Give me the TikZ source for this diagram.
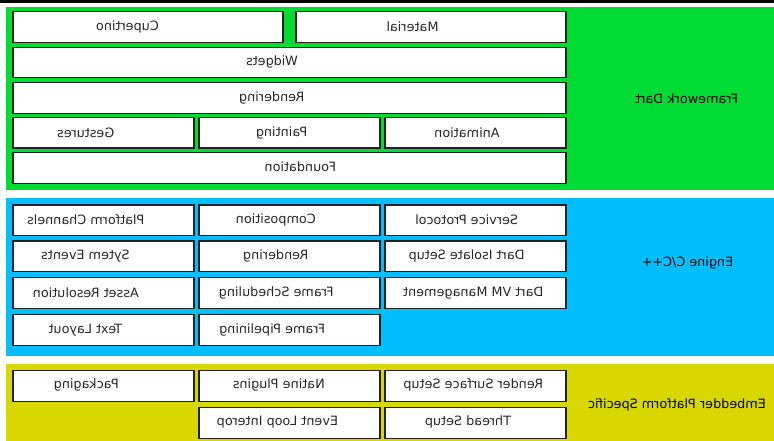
\documentclass[tikz,border=0pt]{standalone}
\usepackage{fontspec}
\setmainfont{DejaVu Sans}
\definecolor{bgreen}{RGB}{0,220,52}
\definecolor{bblue}{RGB}{0,190,255}
\definecolor{byellow}{RGB}{217,215,0}
\definecolor{boxline}{RGB}{34,34,34}
\definecolor{txt}{RGB}{40,40,40}
\newcommand{\mir}[1]{\reflectbox{#1}}
\begin{document}
\begin{tikzpicture}[x=1pt,y=-1pt,
  band/.style={inner sep=0pt, outer sep=0pt, draw=none},
  box/.style={draw=boxline, line width=1.3pt, fill=white, inner sep=0pt, outer sep=0pt, minimum width=181pt, minimum height=30.5pt},
  lbl/.style={text=txt, inner sep=0pt, font=\fontsize{12.8}{15}\selectfont},
  blbl/.style={text=black, inner sep=0pt, font=\fontsize{12.8}{15}\selectfont}]
\useasboundingbox (0,0) rectangle (774,441);
\fill[white] (0,0) rectangle (774,441);
\fill[black] (0,0) rectangle (774,2.6);
% bands
\node[band, fill=bgreen, minimum width=768pt, minimum height=183.3pt] (fw) at (390,98.35) {};
\node[band, fill=bblue, minimum width=768pt, minimum height=158pt] (en) at (390,277) {};
\node[band, fill=byellow, minimum width=768pt, minimum height=77.5pt] (em) at (390,402.25) {};
% framework boxes
\node[box, minimum width=270pt] (cup) at (148,27) {};
\node[box, minimum width=270pt] (mat) at (431,27) {};
\node[box, minimum width=553pt] (wid) at (289.5,62.5) {};
\node[box, minimum width=553pt] (ren) at (289.5,98) {};
\node[box] (ges) at (103.5,132.75) {};
\node[box] (pai) at (289.5,132.75) {};
\node[box] (ani) at (475.5,132.75) {};
\node[box, minimum width=553pt] (fou) at (289.5,168) {};
\node[lbl] (tcup) at (127.5,26.7) {\mir{Cupertino}};
\node[lbl] (tmat) at (412.5,27) {\mir{Material}};
\node[lbl] (twid) at (272,61.7) {\mir{Widgets}};
\node[lbl] (tren) at (271.8,98) {\mir{Rendering}};
\node[lbl] (tges) at (85.8,132.7) {\mir{Gestures}};
\node[lbl] (tpai) at (281.7,132.7) {\mir{Painting}};
\node[lbl] (tani) at (467,132.7) {\mir{Animation}};
\node[lbl] (tfou) at (300.3,166.7) {\mir{Foundation}};
\node[blbl] (tfw) at (686.7,98.3) {\mir{Framework Dart}};
% engine boxes
\node[box] (pc) at (103.5,220.3) {};
\node[box] (co) at (289.5,220.3) {};
\node[box] (sp) at (475.5,220.3) {};
\node[box] (se) at (103.5,256.2) {};
\node[box] (er) at (289.5,256.2) {};
\node[box] (di) at (475.5,256.2) {};
\node[box] (ar) at (103.5,293) {};
\node[box] (fs) at (289.5,293) {};
\node[box] (dv) at (475.5,293) {};
\node[box] (tl) at (103.5,330) {};
\node[box] (fp) at (289.5,330) {};
\node[lbl] (tpc) at (85.8,220) {\mir{Platform Channels}};
\node[lbl] (tco) at (275.8,220) {\mir{Composition}};
\node[lbl] (tsp) at (466.7,220) {\mir{Service Protocol}};
\node[lbl] (tse) at (85.5,256) {\mir{Sytem Events}};
\node[lbl] (ter) at (275.8,256) {\mir{Rendering}};
\node[lbl] (tdi) at (466.7,256) {\mir{Dart Isolate Setup}};
\node[lbl] (tar) at (85.8,292.7) {\mir{Asset Resolution}};
\node[lbl] (tfs) at (276.2,292.7) {\mir{Frame Scheduling}};
\node[lbl] (tdv) at (473.3,292.7) {\mir{Dart VM Management}};
\node[lbl] (ttl) at (85.3,330) {\mir{Text Layout}};
\node[lbl] (tfp) at (272.2,330) {\mir{Frame Pipelining}};
\node[blbl] (ten) at (687.5,263.3) {\mir{Engine C/C++}};
% embedder boxes
\node[box, minimum height=31pt] (pk) at (103.5,386.2) {};
\node[box, minimum height=31pt] (np) at (289.5,386.2) {};
\node[box, minimum height=31pt] (rs) at (475.5,386.2) {};
\node[box, minimum height=31pt] (el) at (289.5,423) {};
\node[box, minimum height=31pt] (ts) at (475.5,423) {};
\node[lbl] (tpk) at (86.3,385) {\mir{Packaging}};
\node[lbl] (tnp) at (278.8,385) {\mir{Natine Plugins}};
\node[lbl] (trs) at (473.3,385) {\mir{Render Surface Setup}};
\node[lbl] (tel) at (277.5,422) {\mir{Event Loop Interop}};
\node[lbl] (tts) at (468,421.7) {\mir{Thread Setup}};
\node[blbl] (tem) at (677,405) {\mir{Embedder Platform Specific}};
\end{tikzpicture}
\end{document}
